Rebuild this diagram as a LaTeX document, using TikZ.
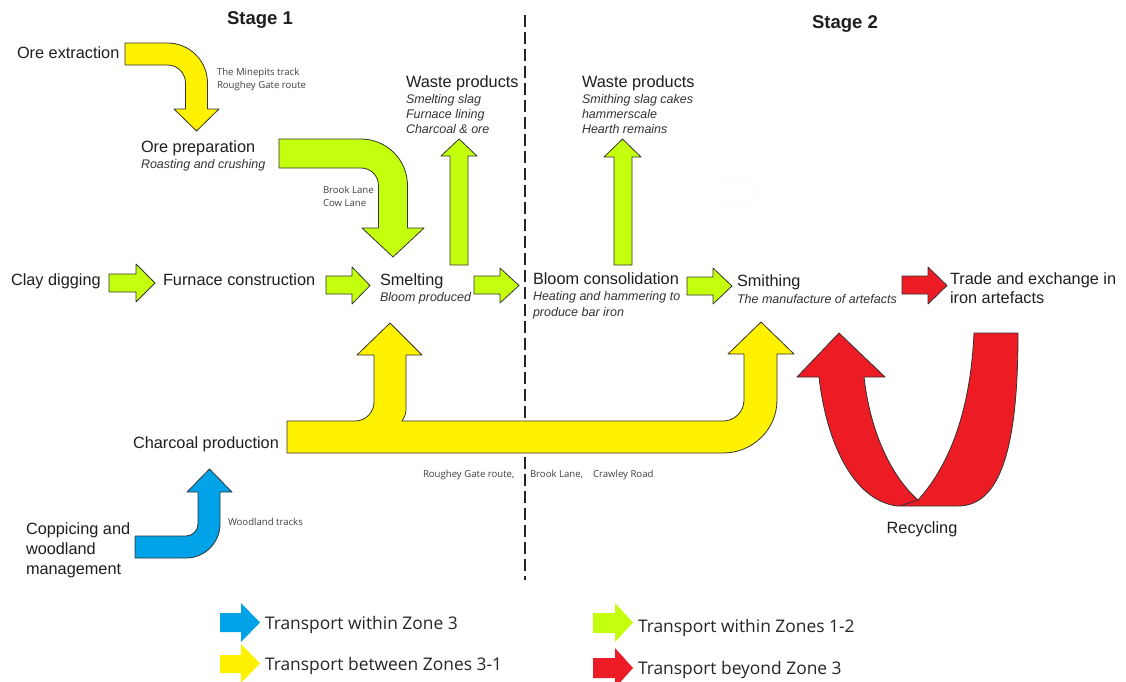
\documentclass[tikz,border=0pt]{standalone}
\usepackage{fontspec}
\setmainfont{Liberation Sans}
\newfontfamily\routefont{Open Sans}
\begin{document}
\begin{tikzpicture}[x=1pt,y=-1pt,
  every node/.style={inner sep=0pt,outer sep=0pt,text=black!88},
  lbl/.style={anchor=mid west,yshift=-4pt,font=\fontsize{16.3}{18}\selectfont},
  sub/.style={anchor=mid west,yshift=-3pt,font=\fontsize{12.5}{14}\selectfont\itshape,text=black!80},
  route/.style={anchor=mid west,yshift=-2pt,font=\routefont\fontsize{9.6}{11}\selectfont,text=black!75},
  legendtxt/.style={anchor=mid west,yshift=-4pt,font=\routefont\fontsize{17.4}{19}\selectfont,text=black!85},
  stagetxt/.style={yshift=-1.5pt,font=\fontsize{18.5}{20}\selectfont\bfseries},
  flow/.style={draw=black!80,line width=0.8pt,line join=round},
  yel/.style={flow,fill={rgb,255:red,255;green,242;blue,0}},
  grn/.style={flow,fill={rgb,255:red,196;green,255;blue,14}},
  blu/.style={flow,fill={rgb,255:red,0;green,162;blue,232}},
  rd/.style={flow,fill={rgb,255:red,237;green,28;blue,36}},
  keyyel/.style={fill={rgb,255:red,255;green,242;blue,0}},
  keygrn/.style={fill={rgb,255:red,196;green,255;blue,14}},
  keyblu/.style={fill={rgb,255:red,0;green,162;blue,232}},
  keyrd/.style={fill={rgb,255:red,237;green,28;blue,36}},
]
\useasboundingbox[fill=white] (0,0) rectangle (1126,681);

% stage headings and divider
\node[stagetxt] (st1) at (260,18) {Stage 1};
\node[stagetxt] (st2) at (845,22) {Stage 2};
\coordinate (divtop) at (525,15);
\coordinate (divbot) at (525,580);
\draw[black!85,line width=1.3pt,dash pattern=on 12pt off 5pt] (divtop) -- (divbot);

% process labels
\node[lbl] (oreext) at (17,52) {Ore extraction};
\node[route] (r1a) at (217,71) {The Minepits track};
\node[route] (r1b) at (217,84) {Roughey Gate route};
\node[lbl] (oreprep) at (141,146) {Ore preparation};
\node[sub] (oreprepsub) at (141,163) {Roasting and crushing};
\node[route] (r2a) at (323,189) {Brook Lane};
\node[route] (r2b) at (323,202) {Cow Lane};

\node[lbl] (waste1) at (406,81) {Waste products};
\node[sub] (w1a) at (406,98) {Smelting slag};
\node[sub] (w1b) at (406,113) {Furnace lining};
\node[sub] (w1c) at (406,128) {Charcoal \& ore};

\node[lbl] (waste2) at (582,81) {Waste products};
\node[sub] (w2a) at (582,98) {Smithing slag cakes};
\node[sub] (w2b) at (582,113) {hammerscale};
\node[sub] (w2c) at (582,128) {Hearth remains};

\node[lbl] (clay) at (11,279) {Clay digging};
\node[lbl] (furn) at (163,279) {Furnace construction};
\node[lbl] (smelt) at (380,279) {Smelting};
\node[sub] (smeltsub) at (380,296) {Bloom produced};
\node[lbl] (bloom) at (533,278) {Bloom consolidation};
\node[sub] (bloomsub1) at (533,295) {Heating and hammering to};
\node[sub] (bloomsub2) at (533,311) {produce bar iron};
\node[lbl] (smith) at (737,280) {Smithing};
\node[sub] (smithsub) at (737,298) {The manufacture of artefacts};
\node[lbl] (trade1) at (950,278) {Trade and exchange in};
\node[lbl] (trade2) at (950,297) {iron artefacts};

\node[lbl] (charcoal) at (133,442) {Charcoal production};
\node[route] (r3a) at (423,473) {Roughey Gate route,};
\node[route] (r3b) at (530,473) {Brook Lane,};
\node[route] (r3c) at (593,473) {Crawley Road};
\node[route] (r4) at (228,521) {Woodland tracks};
\node[lbl] (copp1) at (26,528) {Coppicing and};
\node[lbl] (copp2) at (26,548) {woodland};
\node[lbl] (copp3) at (26,568) {management};
\node[lbl,anchor=mid] (recyc) at (922,527) {Recycling};

% ore extraction -> ore preparation
\draw[yel] (125,43) -- (167.5,43) .. controls (189.6,43) and (207.5,60.9) .. (207.5,83)
  -- (207.5,109) -- (219,109) -- (196.5,131) -- (174,109) -- (185.5,109) -- (185.5,83)
  .. controls (185.5,73.1) and (177.4,65) .. (167.5,65) -- (125,65) -- cycle;

% ore preparation -> smelting
\draw[grn] (279,139) -- (361,139) .. controls (386.7,139) and (407.5,159.8) .. (407.5,185.5)
  -- (407.5,228) -- (424,228) -- (393,257) -- (362,228) -- (378.5,228) -- (378.5,185.5)
  .. controls (378.5,175.8) and (370.7,168) .. (361,168) -- (279,168) -- cycle;

% waste arrows
\draw[grn] (450,265) -- (450,156) -- (441,156) -- (459,139) -- (477,156) -- (468,156) -- (468,265) -- cycle;
\draw[grn] (614,265) -- (614,157) -- (604,157) -- (622.5,139) -- (641,157) -- (632,157) -- (632,265) -- cycle;

% straight flow arrows along the main line
\draw[grn] (109,274) -- (136,274) -- (136,264) -- (155,283) -- (136,302) -- (136,292) -- (109,292) -- cycle;
\draw[grn] (326,276) -- (352,276) -- (352,267) -- (370,285.5) -- (352,304) -- (352,294) -- (326,294) -- cycle;
\draw[grn] (474,276) -- (500,276) -- (500,268) -- (519,285.5) -- (500,303) -- (500,294) -- (474,294) -- cycle;
\draw[grn] (687,277) -- (713,277) -- (713,268) -- (732,286) -- (713,304) -- (713,295) -- (687,295) -- cycle;
\draw[rd] (902,276) -- (928,276) -- (928,267) -- (947,285.5) -- (928,304) -- (928,294) -- (902,294) -- cycle;

% faint outline arrow
\draw[black!2,line width=0.8pt] (715,182) -- (735,182) -- (735,172) -- (757,192) -- (735,212) -- (735,202) -- (715,202) -- cycle;

% charcoal supply to smelting and smithing
\draw[yel] (287,421) -- (355,421) .. controls (366,421) and (374,412) .. (374,402)
  -- (374,355) -- (357,355) -- (390,323) -- (422,355) -- (406,355) -- (406,410)
  .. controls (406,414) and (404,418) .. (402,421)
  -- (723,421) .. controls (734.6,421) and (744,411.6) .. (744,400)
  -- (744,354) -- (728,354) -- (761,322) -- (794,354) -- (777,354) -- (777,400)
  .. controls (777,429.4) and (752.8,453) .. (723,453) -- (287,453) -- cycle;

% woodland -> charcoal production
\draw[blu] (135,536) -- (186,536) .. controls (192.6,536) and (198,530.6) .. (198,524)
  -- (198,492) -- (187,492) -- (209.5,469) -- (232,492) -- (220,492) -- (220,524)
  .. controls (220,542.8) and (204.8,558) .. (186,558) -- (135,558) -- cycle;

% recycling loop
\coordinate (vee) at (918,500);
\coordinate (twist) at (897,506);
\draw[rd] (974,333) -- (1018,333) .. controls (1018,440) and (1003,506) .. (958,506)
  -- (twist) .. controls (852,500) and (826,440) .. (819,377)
  -- (797,377) -- (839,333) -- (885,377) -- (864,377)
  .. controls (870,430) and (890,475) .. (vee)
  .. controls (945,470) and (970,420) .. (974,333) -- cycle;
\draw[black!80,line width=0.8pt] (vee) -- (901,505.5);

% key
\fill[keyblu] (220,613) -- (241,613) -- (241,603) -- (260,622.5) -- (241,642) -- (241,632) -- (220,632) -- cycle;
\node[legendtxt] (k1) at (265,623) {Transport within Zone 3};
\fill[keyyel] (220,655) -- (241,655) -- (241,644) -- (260,663.5) -- (241,683) -- (241,673) -- (220,673) -- cycle;
\node[legendtxt] (k2) at (265,664) {Transport between Zones 3-1};
\fill[keygrn] (593,613) -- (615,613) -- (615,603) -- (633,622.5) -- (615,642) -- (615,633) -- (593,633) -- cycle;
\node[legendtxt] (k3) at (638,626) {Transport within Zones 1-2};
\fill[keyrd] (593,658) -- (615,658) -- (615,648) -- (633,668) -- (615,688) -- (615,678) -- (593,678) -- cycle;
\node[legendtxt] (k4) at (638,668) {Transport beyond Zone 3};
\end{tikzpicture}
\end{document}
